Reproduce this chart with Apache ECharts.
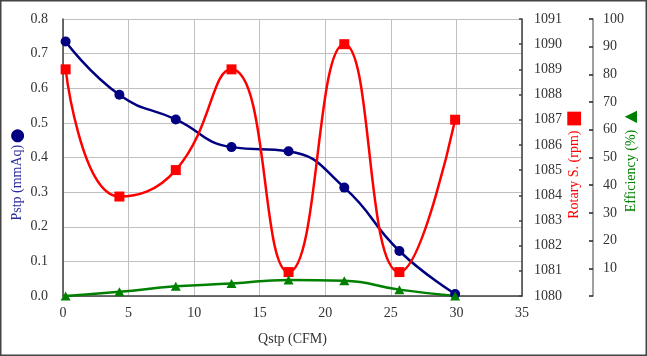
<!DOCTYPE html>
<html>
<head>
<meta charset="utf-8">
<script src="https://cdn.jsdelivr.net/npm/echarts@6/dist/echarts.min.js"></script>
<style>
html,body{margin:0;padding:0;background:#fff;}
#c{width:647px;height:356px;}
</style>
</head>
<body>
<div id="c"></div>
<script>
const qstp = [0.2, 4.3, 8.6, 12.85, 17.2, 21.45, 25.65, 29.9];
const pstp = [0.735, 0.581, 0.51, 0.43, 0.418, 0.313, 0.13, 0.006];
const rotary = [1089, 1083.95, 1085, 1089, 1080.95, 1090, 1080.95, 1087];
const efficiency = [0, 1.5, 3.5, 4.5, 5.8, 5.5, 2.3, 0];

const xTicks = {min: 0, max: 35, interval: 5};
const pTicks = {min: 0, max: 0.8, interval: 0.1};
const rTicks = {min: 1080, max: 1091, interval: 1};
const eTicks = {min: 0, max: 100, interval: 10};

const font = 'Liberation Serif';
const labelColor = '#333';
const axisColor = '#404040';
const gridColor = '#c0c0c0';

function pairs(xs, ys) { return xs.map((x, i) => [x, ys[i]]); }

const chart = echarts.init(document.getElementById('c'), null, {renderer: 'canvas'});
chart.setOption({
  backgroundColor: '#fff',
  animation: false,
  graphic: [{
    type: 'rect', z: 100, silent: true,
    shape: {x: 0.75, y: 0.75, width: 645.5, height: 354.5},
    style: {fill: 'none', stroke: '#444', lineWidth: 1.5}
  }],
  grid: {left: 63, top: 19, right: 125, bottom: 60, containLabel: false, outerBoundsMode: 'none'},
  xAxis: {
    type: 'value', min: xTicks.min, max: xTicks.max, interval: xTicks.interval,
    name: 'Qstp (CFM)', nameLocation: 'middle', nameGap: 36, nameMoveOverlap: false,
    nameTextStyle: {fontFamily: font, fontSize: 14, color: labelColor},
    axisLine: {show: true, onZero: false, lineStyle: {color: axisColor, width: 1.5}},
    axisTick: {show: false},
    axisLabel: {fontFamily: font, fontSize: 14, color: labelColor, margin: 10},
    splitLine: {show: true, lineStyle: {color: gridColor, width: 1}}
  },
  yAxis: [
    {
      type: 'value', position: 'left', min: pTicks.min, max: pTicks.max, interval: pTicks.interval,
      name: '{t|Pstp (mmAq)}{s| }{m|●}', nameLocation: 'middle', nameGap: 37, nameRotate: 90,
      nameMoveOverlap: false,
      nameTextStyle: {padding: [0, 34, 0, 0], rich: {
        t: {fontFamily: font, fontSize: 14, color: '#2b2b9b'},
        s: {fontFamily: font, fontSize: 6},
        m: {fontFamily: 'DejaVu Sans', fontSize: 17, color: '#000080'}
      }},
      axisLine: {show: true, lineStyle: {color: axisColor, width: 1.5}},
      axisTick: {show: false},
      axisLabel: {fontFamily: font, fontSize: 14, color: labelColor, margin: 15,
        formatter: v => v.toFixed(1)},
      splitLine: {show: true, lineStyle: {color: gridColor, width: 1}}
    },
    {
      type: 'value', position: 'right', offset: 0, min: rTicks.min, max: rTicks.max, interval: rTicks.interval,
      name: '{t|Rotary S. (rpm)} {m|■}', nameLocation: 'middle', nameGap: 43, nameRotate: 90,
      nameMoveOverlap: false,
      nameTextStyle: {padding: [0, 14, 0, 0], rich: {
        t: {fontFamily: font, fontSize: 14, color: '#ff0000'},
        m: {fontFamily: 'DejaVu Sans', fontSize: 18, color: '#ff0000'}
      }},
      axisLine: {show: true, lineStyle: {color: axisColor, width: 1.5}},
      axisTick: {show: true, inside: true, length: 3, lineStyle: {color: axisColor, width: 1.5}},
      axisLabel: {fontFamily: font, fontSize: 14, color: labelColor, margin: 12,
        formatter: v => String(v)},
      splitLine: {show: false}
    },
    {
      type: 'value', position: 'right', offset: 71, min: eTicks.min, max: eTicks.max, interval: eTicks.interval,
      name: '{t|Efficiency (%)}  {m|▲}', nameLocation: 'middle', nameGap: 30, nameRotate: 90,
      nameMoveOverlap: false,
      nameTextStyle: {padding: [0, 8, 0, 0], rich: {
        t: {fontFamily: font, fontSize: 14, color: '#008000'},
        m: {fontFamily: 'DejaVu Sans', fontSize: 16, color: '#008000'}
      }},
      axisLine: {show: true, lineStyle: {color: '#808080', width: 1.5}},
      axisTick: {show: true, inside: true, length: 4, lineStyle: {color: '#222', width: 1.5}},
      axisLabel: {fontFamily: font, fontSize: 14, color: labelColor, margin: 10,
        formatter: v => v === 0 ? '' : String(v)},
      splitLine: {show: false}
    }
  ],
  series: [
    {
      type: 'line', name: 'Pstp', yAxisIndex: 0, data: pairs(qstp, pstp), smooth: 0.5,
      symbol: 'circle', symbolSize: 10,
      lineStyle: {color: '#000080', width: 2.5}, itemStyle: {color: '#000080'}
    },
    {
      type: 'line', name: 'Rotary', yAxisIndex: 1, data: pairs(qstp, rotary), smooth: 0.5,
      symbol: 'rect', symbolSize: 10,
      lineStyle: {color: '#ff0000', width: 2.5}, itemStyle: {color: '#ff0000'}
    },
    {
      type: 'line', name: 'Efficiency', yAxisIndex: 2, data: pairs(qstp, efficiency), smooth: 0.5,
      symbol: 'triangle', symbolSize: [10, 9],
      lineStyle: {color: '#008000', width: 2.5}, itemStyle: {color: '#008000'}
    }
  ]
});
</script>
</body>
</html>
